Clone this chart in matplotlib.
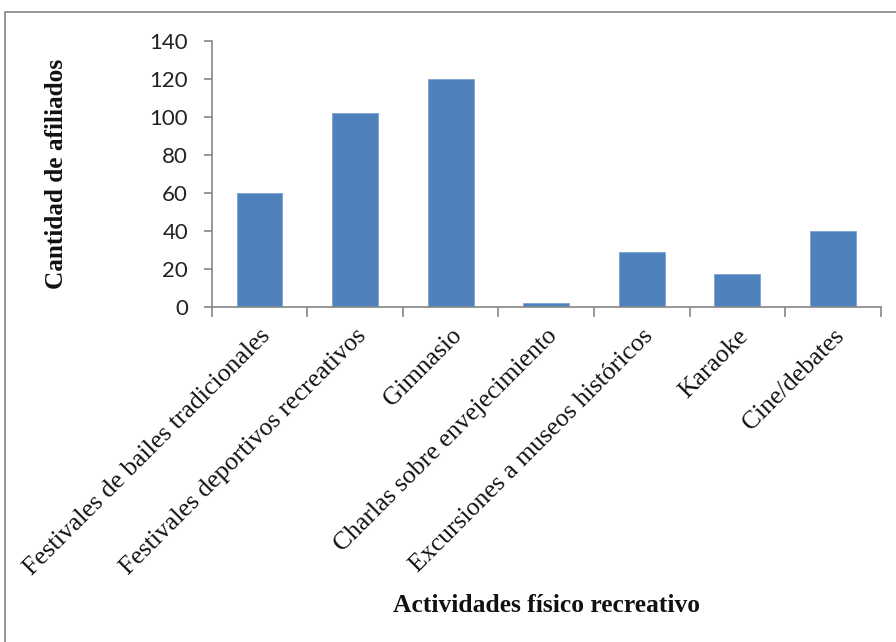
import matplotlib.pyplot as plt
import numpy as np
from matplotlib.patches import Rectangle

actividades = [
    'Festivales de bailes tradicionales',
    'Festivales deportivos recreativos',
    'Gimnasio',
    'Charlas sobre envejecimiento',
    'Excursiones a museos históricos',
    'Karaoke',
    'Cine/debates',
]
afiliados = [60, 102, 120, 2, 29, 17, 40]
y_ticks = [0, 20, 40, 60, 80, 100, 120, 140]

axis_grey = '#868686'
bar_blue = '#4F81BD'
serif = ['Liberation Serif', 'DejaVu Serif']

fig = plt.figure(figsize=(8.96, 6.42), dpi=100)
ax = fig.add_axes([0.2363, 0.5223, 0.7467, 0.4143])

x = np.arange(len(actividades))
ax.bar(x, afiliados, width=0.48, color=bar_blue, edgecolor='#7fa3d3', linewidth=0.6, zorder=2)

ax.set_xlim(-0.5, len(actividades) - 0.5)
ax.set_ylim(0, 140)
ax.set_yticks(y_ticks)
ax.set_yticklabels([str(v) for v in y_ticks], fontfamily='Lato', fontsize=16, color='#222222')

# category labels on centers, tick marks between categories
ax.set_xticks(x)
ax.set_xticklabels(actividades, rotation=45, ha='right', va='top', rotation_mode='anchor',
                   fontfamily=serif, fontsize=18.5, color='#111111')
ax.set_xticks(np.arange(-0.5, len(actividades)), minor=True)
ax.tick_params(axis='x', which='major', length=0, pad=13)
ax.tick_params(axis='x', which='minor', length=7, width=1.2, color=axis_grey, direction='out')
ax.tick_params(axis='y', length=6, width=1.2, color=axis_grey, direction='out', pad=11)

for side in ('top', 'right'):
    ax.spines[side].set_visible(False)
for side in ('left', 'bottom'):
    ax.spines[side].set_color(axis_grey)
    ax.spines[side].set_linewidth(1.2)

fig.text(0.0636, 0.7295, 'Cantidad de afiliados', rotation=90, ha='center', va='center',
         fontfamily=serif, fontweight='bold', fontsize=18.2, color='#111111')
fig.text(0.6094, 0.0576, 'Actividades físico recreativo', ha='center', va='center',
         fontfamily=serif, fontweight='bold', fontsize=18.4, color='#111111')

# outer chart frame
frame = Rectangle((5 / 896, -0.05), 1.2, 0.05 + (1 - 12 / 642), transform=fig.transFigure,
                  fill=False, edgecolor='#8c8c8c', linewidth=1.3, clip_on=False)
fig.patches.append(frame)

fig.savefig('out.png', dpi=100)
